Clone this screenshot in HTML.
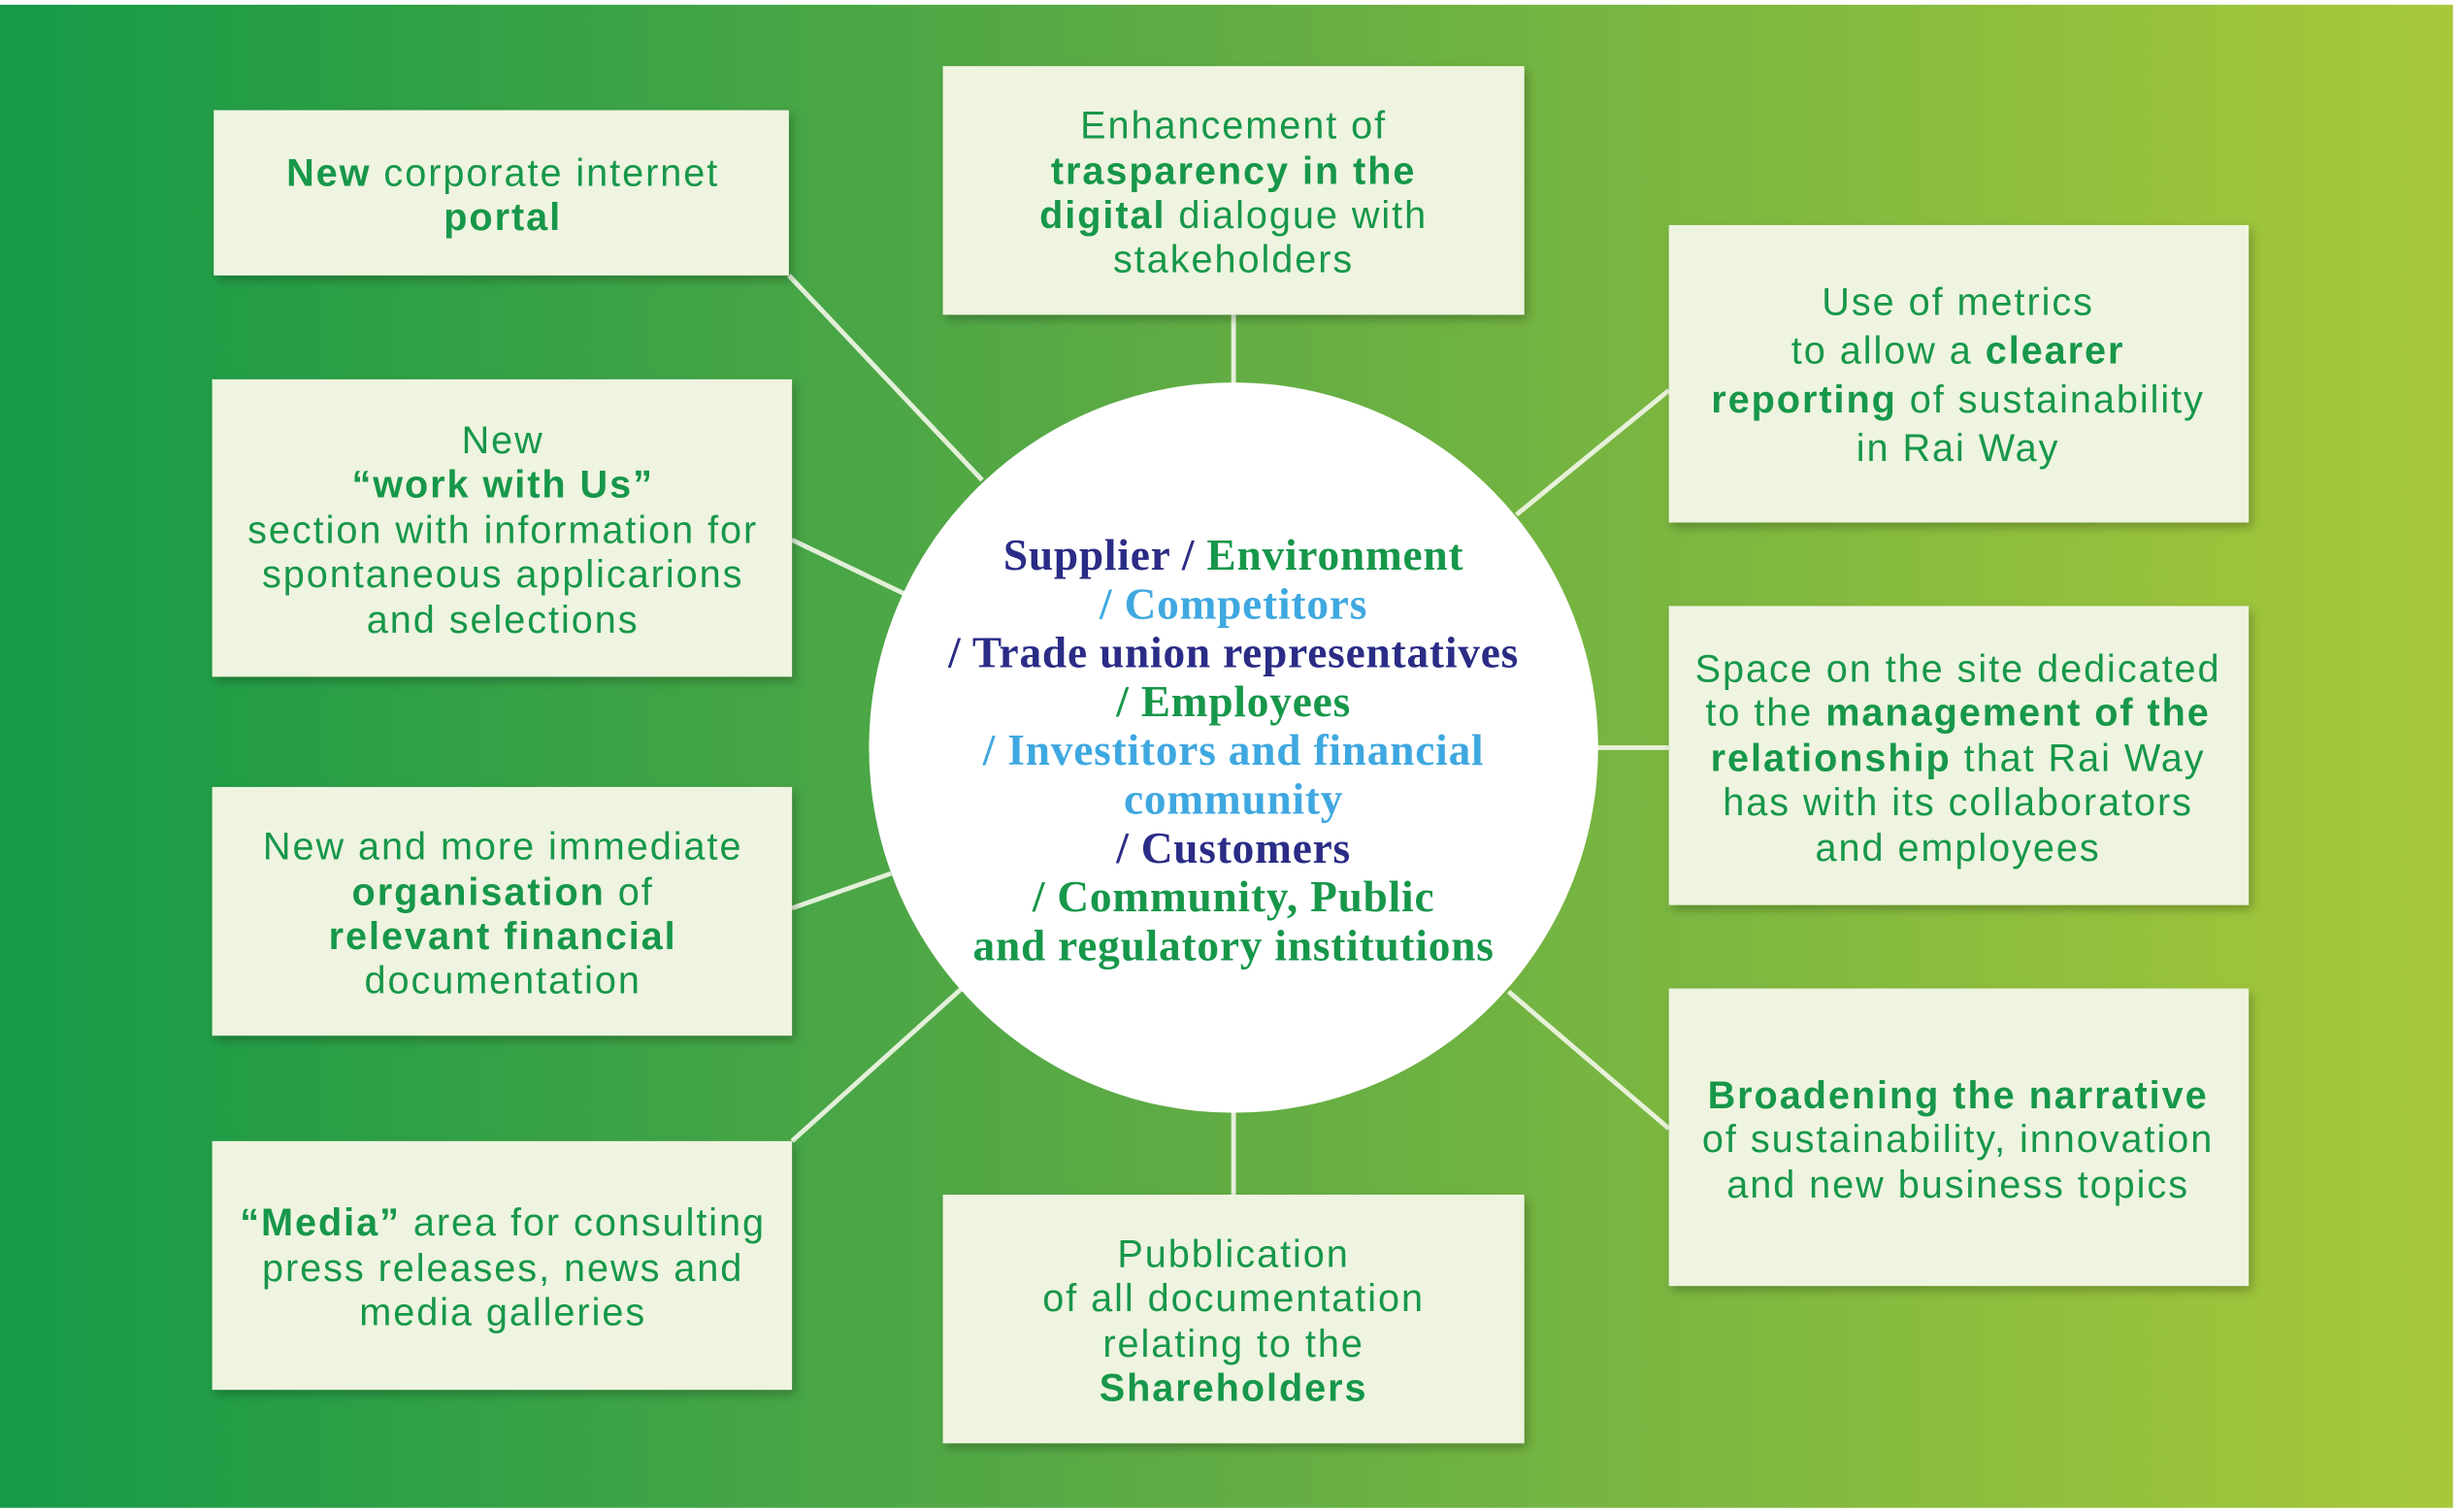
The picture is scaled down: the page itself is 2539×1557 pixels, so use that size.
<!DOCTYPE html>
<html><head><meta charset="utf-8"><style>
html,body{margin:0;padding:0;background:#fff;}
svg{display:block;}
text{font-family:"Liberation Sans",sans-serif;}
.t{font-size:24.5px;fill:#17974a;text-anchor:middle;letter-spacing:1.2px;}
.b{font-weight:bold;}
.c{font-family:"Liberation Serif",serif;font-weight:bold;font-size:28px;text-anchor:middle;letter-spacing:0.5px;}
</style></head><body>
<svg width="2539" height="1557" viewBox="0 0 1568 960" preserveAspectRatio="none" xmlns="http://www.w3.org/2000/svg">
<defs>
<linearGradient id="g" x1="0" y1="0" x2="1" y2="0">
<stop offset="0" stop-color="#159a47"/>
<stop offset="0.45" stop-color="#5aaa45"/>
<stop offset="1" stop-color="#a8c83a"/>
</linearGradient>
<filter id="s" x="-10%" y="-10%" width="130%" height="130%"><feDropShadow dx="2" dy="3" stdDeviation="3" flood-color="#000" flood-opacity="0.25"/></filter>
</defs>
<rect x="0" y="3" width="1561" height="955" fill="url(#g)"/>
<g stroke="#f4f8ea" stroke-width="3" opacity="0.9">
<line x1="502" y1="175" x2="625" y2="305"/>
<line x1="785" y1="200" x2="785" y2="245"/>
<line x1="1062" y1="248" x2="965" y2="327"/>
<line x1="504" y1="343" x2="575" y2="377"/>
<line x1="1015" y1="475" x2="1062" y2="475"/>
<line x1="504" y1="577" x2="567" y2="555"/>
<line x1="1062" y1="717" x2="960" y2="630"/>
<line x1="504" y1="725" x2="612" y2="628"/>
<line x1="785" y1="705" x2="785" y2="759"/>
</g>
<g fill="#eef4df" filter="url(#s)">
<rect x="136" y="70" width="366" height="105"/>
<rect x="600" y="42" width="370" height="158"/>
<rect x="1062" y="143" width="369" height="189"/>
<rect x="135" y="241" width="369" height="189"/>
<rect x="1062" y="385" width="369" height="190"/>
<rect x="135" y="500" width="369" height="158"/>
<rect x="1062" y="628" width="369" height="189"/>
<rect x="135" y="725" width="369" height="158"/>
<rect x="600" y="759" width="370" height="158"/>
</g>
<circle cx="785" cy="475" r="232" fill="#fff"/>

<text class="t" x="320" y="118"><tspan class="b">New</tspan> corporate internet</text>
<text class="t b" x="320" y="146">portal</text>

<text class="t" x="785" y="88">Enhancement of</text>
<text class="t b" x="785" y="117">trasparency in the</text>
<text class="t" x="785" y="145"><tspan class="b">digital</tspan> dialogue with</text>
<text class="t" x="785" y="173">stakeholders</text>

<text class="t" x="1246" y="200">Use of metrics</text>
<text class="t" x="1246" y="231">to allow a <tspan class="b">clearer</tspan></text>
<text class="t" x="1246" y="262"><tspan class="b">reporting</tspan> of sustainability</text>
<text class="t" x="1246" y="293">in Rai Way</text>

<text class="t" x="320" y="288">New</text>
<text class="t b" x="320" y="316">“work with Us”</text>
<text class="t" x="320" y="345">section with information for</text>
<text class="t" x="320" y="373">spontaneous applicarions</text>
<text class="t" x="320" y="402">and selections</text>

<text class="t" x="1246" y="433">Space on the site dedicated</text>
<text class="t" x="1246" y="461">to the <tspan class="b">management of the</tspan></text>
<text class="t" x="1246" y="490"><tspan class="b">relationship</tspan> that Rai Way</text>
<text class="t" x="1246" y="518">has with its collaborators</text>
<text class="t" x="1246" y="547">and employees</text>

<text class="t" x="320" y="546">New and more immediate</text>
<text class="t" x="320" y="575"><tspan class="b">organisation</tspan> of</text>
<text class="t b" x="320" y="603">relevant financial</text>
<text class="t" x="320" y="631">documentation</text>

<text class="t b" x="1246" y="704">Broadening the narrative</text>
<text class="t" x="1246" y="732">of sustainability, innovation</text>
<text class="t" x="1246" y="761">and new business topics</text>

<text class="t" x="320" y="785"><tspan class="b">“Media”</tspan> area for consulting</text>
<text class="t" x="320" y="814">press releases, news and</text>
<text class="t" x="320" y="842">media galleries</text>

<text class="t" x="785" y="805">Pubblication</text>
<text class="t" x="785" y="833">of all documentation</text>
<text class="t" x="785" y="862">relating to the</text>
<text class="t b" x="785" y="890">Shareholders</text>

<text class="c" x="785" y="362"><tspan fill="#2a2c86">Supplier / </tspan><tspan fill="#17974a">Environment</tspan></text>
<text class="c" x="785" y="393" fill="#3fa8e0">/ Competitors</text>
<text class="c" x="785" y="424" fill="#2a2c86">/ Trade union representatives</text>
<text class="c" x="785" y="455" fill="#17974a">/ Employees</text>
<text class="c" x="785" y="486" fill="#3fa8e0">/ Investitors and financial</text>
<text class="c" x="785" y="517" fill="#3fa8e0">community</text>
<text class="c" x="785" y="548" fill="#2a2c86">/ Customers</text>
<text class="c" x="785" y="579" fill="#17974a">/ Community, Public</text>
<text class="c" x="785" y="610" fill="#17974a">and regulatory institutions</text>
</svg>
</body></html>
